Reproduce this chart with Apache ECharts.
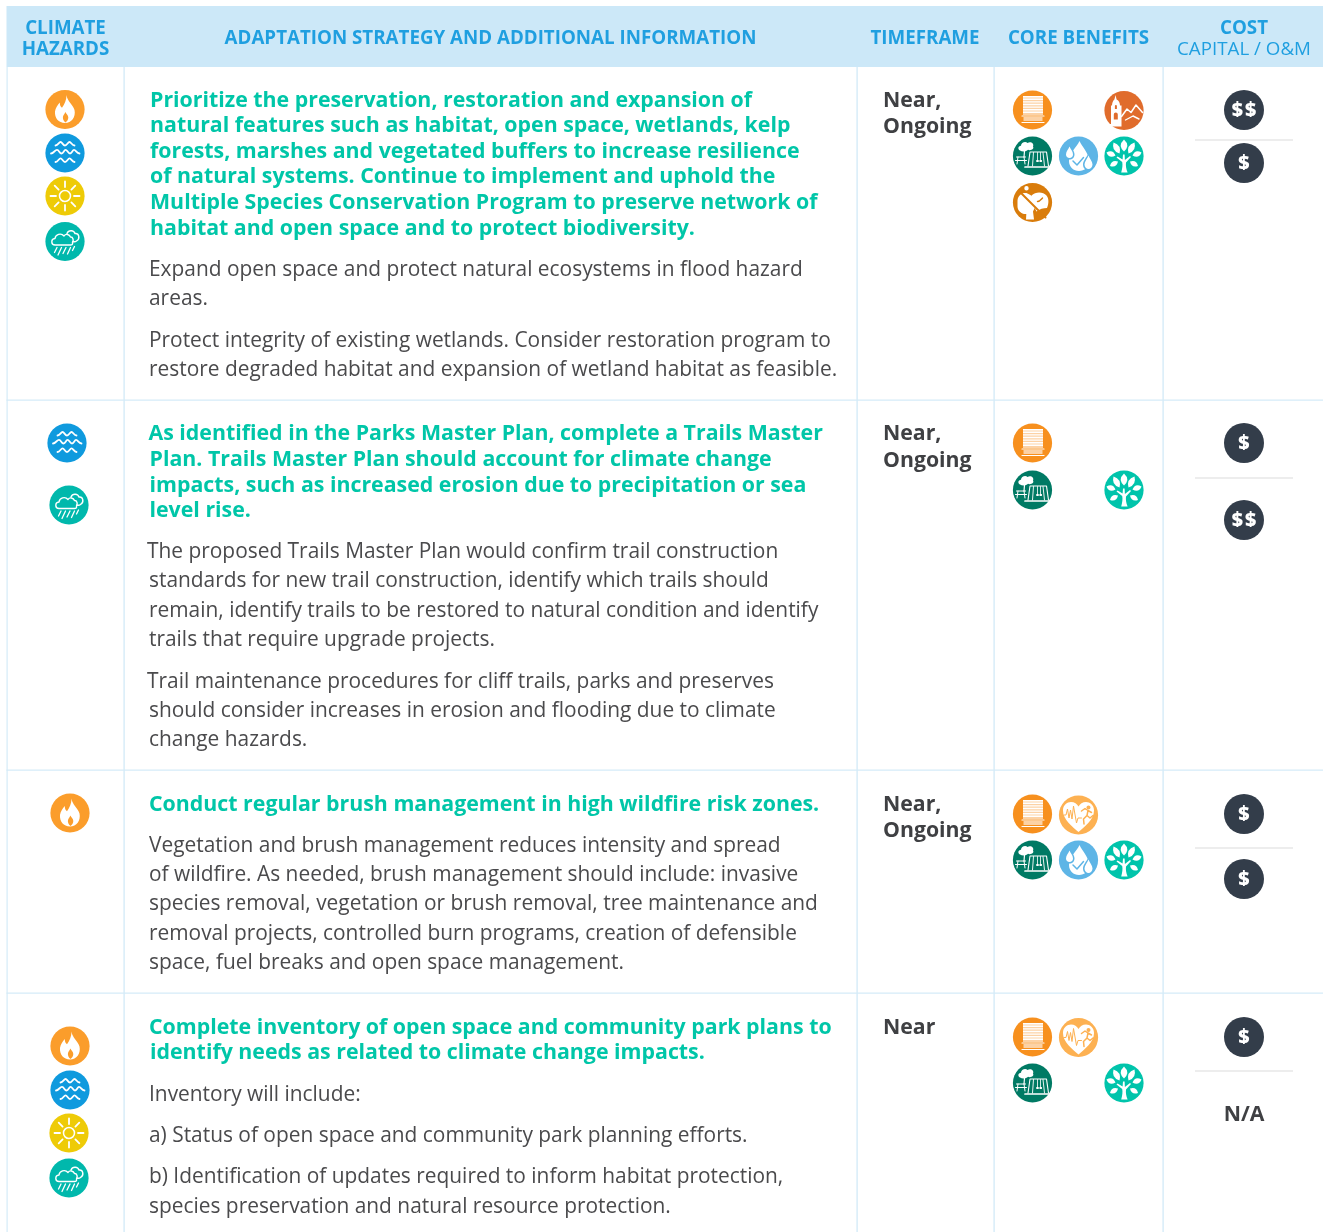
<!DOCTYPE html>
<html><head><meta charset="utf-8">
<style>html,body{margin:0;padding:0;background:#fff}#c{width:1323px;height:1232px}</style>
<script src="https://cdn.jsdelivr.net/npm/echarts@6/dist/echarts.min.js"></script>
</head><body><div id="c"></div>
<script>
// ---------- content ----------
const headerCells = ['ADAPTATION STRATEGY AND ADDITIONAL INFORMATION','TIMEFRAME','CORE BENEFITS'];
const timeframes = [['Near,','Ongoing'],['Near,','Ongoing'],['Near,','Ongoing'],['Near']];
const headlines = [
 ['Prioritize the preservation, restoration and expansion of','natural features such as habitat, open space, wetlands, kelp','forests, marshes and vegetated buffers to increase resilience','of natural systems. Continue to implement and uphold the','Multiple Species Conservation Program to preserve network of','habitat and open space and to protect biodiversity.'],
 ['As identified in the Parks Master Plan, complete a Trails Master','Plan. Trails Master Plan should account for climate change','impacts, such as increased erosion due to precipitation or sea','level rise.'],
 ['Conduct regular brush management in high wildfire risk zones.'],
 ['Complete inventory of open space and community park plans to','identify needs as related to climate change impacts.']
];
const details = [
 ['Expand open space and protect natural ecosystems in flood hazard','areas.','Protect integrity of existing wetlands. Consider restoration program to','restore degraded habitat and expansion of wetland habitat as feasible.'],
 ['The proposed Trails Master Plan would confirm trail construction','standards for new trail construction, identify which trails should','remain, identify trails to be restored to natural condition and identify','trails that require upgrade projects.','Trail maintenance procedures for cliff trails, parks and preserves','should consider increases in erosion and flooding due to climate','change hazards.'],
 ['Vegetation and brush management reduces intensity and spread','of wildfire. As needed, brush management should include: invasive','species removal, vegetation or brush removal, tree maintenance and','removal projects, controlled burn programs, creation of defensible','space, fuel breaks and open space management.'],
 ['Inventory will include:','a) Status of open space and community park planning efforts.','b) Identification of updates required to inform habitat protection,','species preservation and natural resource protection.']
];
const hazards = [['fire','flood','heat','rain'],['flood','rain'],['fire'],['fire','flood','heat','rain']];
const benefits = [['building','historic','play','water','tree','invasive'],['building','play','tree'],['building','heart','play','water','tree'],['building','heart','play','tree']];
const costCapital = ['$$','$','$','$'];
const costOM = ['$','$$','$','N/A'];

// ---------- layout (pixels of the page) ----------
const W=1323,H=1232;
const C={line:'#d5ebf8',head:'#cce8f8',blue:'#1f9fe0',green:'#00c6a8',text:'#4a4a4c',dark:'#3f4043',coin:'#333d4a'};
const colX=[124,857,994,1163], rowY=[67,400,770,993];
const headlineY=[[100,125,151,176,202,228],[433,459,485,510],[804],[1027,1052]];
const headlineX=[[150,150,150,150,150,150],[148.5,149.5,149.5,149.5],[149],[149,150]];
const detailY=[[269,298,340,369],[551,580,610,639,681,710,739],[845,874,903,933,962],[1094,1135,1176,1206]];
const detailX=[[149,149,149,149],[147,149,149,149,147,149,149],[149,149,149,149,149],[149,149,149,149]];
const timeY=[[100,126],[433,460],[804,830],[1027]];
const hazardXY=[[[65,109.5],[65,153],[65,196],[65,241.5]],[[67,443],[69,505]],[[70,813]],[[70,1046],[70,1090],[69,1133],[69,1178]]];
const bx=[1032.5,1078.5,1124];
const benefitXY=[[[bx[0],110],[bx[2],110.5],[bx[0],156],[bx[1],156],[bx[2],156],[bx[0],202.5]],
 [[bx[0],443],[bx[0],490],[bx[2],490]],
 [[bx[0],814],[bx[1],815],[bx[0],860],[bx[1],860],[bx[2],860]],
 [[bx[0],1037],[bx[1],1037.5],[bx[0],1083],[bx[2],1083]]];
const capY=[110,443,814,1037], omY=[163,520,879,1114], sepY=[140,478,848,1071];

// ---------- icon drawings (40 x 40 box) ----------
const BOX='M0 0M40 40';
const fillP=(d,c='#fff')=>({d,fill:c});
const strokeP=(d,w=1.3,c='#fff')=>({d,stroke:c,lw:w});
const leaf=(a,b,c,d,w)=>{const mx=(a+c)/2,my=(b+d)/2,dx=c-a,dy=d-b,l=Math.hypot(dx,dy),nx=-dy/l*w,ny=dx/l*w;
  return `M${a} ${b}Q${mx+nx} ${my+ny} ${c} ${d}Q${mx-nx} ${my-ny} ${a} ${b}Z`;};
const ICONS={
 fire:{bg:'#fb9d2b',parts:[fillP('M21.5 5.5C22 11.5 28 15 29.5 20.5C31 27.5 26.5 33.5 20 33.5C13.5 33.5 9.5 28.5 10 22C10.5 18.5 12.5 15.5 14.8 13C14.8 15.5 15.5 17.3 17 18.2C19.5 15 21.5 10.5 21.5 5.5Z'),fillP('M20.5 33C18.5 31.5 17.5 29 18 27C18.6 25.3 19.8 24.2 20.3 22.5C21.5 24.5 23.3 25.8 23.3 28C23.3 30 22 32 20.5 33Z','#fb9d2b')]},
 flood:{bg:'#0f9ade',parts:[
  strokeP('M10.5 12.5C13 12.5 14 9 15.5 9C17.2 9 18 12.5 20 12.5C22 12.5 23 9 24.5 9C26.2 9 27 12.5 29.5 12.5',1.8),
  strokeP('M6 20.5C8.5 20.5 10 16.8 12 16.8C14 16.8 14.5 20.5 16.5 20.5C18.5 20.5 19 16.8 20.5 16.8C22.3 16.8 23 20.5 25 20.5C27 20.5 27.5 16.8 29 16.8C31 16.8 31.5 20.5 34.5 20.5',1.8),
  strokeP('M10.5 29C13 29 14 25.3 15.5 25.3C17.2 25.3 18 29 20 29C22 29 23 25.3 24.5 25.3C26.2 25.3 27 29 29.5 29',1.8)]},
 heat:{bg:'#eecb07',parts:[strokeP('M20 14.5A5.5 5.5 0 1 1 19.99 14.5Z',1.5),
  strokeP('M20 5.5V11M20 29V34.5M5.5 20H11M29 20H34.5M9.7 9.7L13.6 13.6M26.4 26.4L30.3 30.3M9.7 30.3L13.6 26.4M26.4 13.6L30.3 9.7',1.8)]},
 rain:{bg:'#00b8ac',parts:[strokeP('M10 23.5C6 23.5 5.5 17.5 10 17C10.5 13 16 11 19 14.5C20.5 12 24.5 12.5 25.5 15.5C28 15.3 29 19 27.5 21C28 22.8 26.8 23.5 25.5 23.5Z',1.4),
  strokeP('M22 12C23.5 8 29 8.5 30 12C34 11.5 35.5 17 31.5 19.5C30.6 20.2 29 20.3 27.8 20',1.4),
  strokeP('M12 26L9.5 31M16.5 26L13 33.5M21 26L18 32M25.5 26L22.5 32.5M29.5 25L27.5 29',1.3)]},
 building:{bg:'#f7901e',parts:[
  {d:'M10.5 6H30.5V25H10.5Z',fill:'rgba(255,255,255,0.6)'},
  fillP('M10.5 6H30.5V7.4H10.5ZM10.5 8.6H30.5V10H10.5ZM10.5 11.2H30.5V12.6H10.5ZM10.5 13.8H30.5V15.2H10.5ZM10.5 16.4H30.5V17.8H10.5ZM10.5 19H30.5V20.4H10.5ZM10.5 21.6H30.5V23H10.5Z'),
  {d:'M11 27H30V31H11Z',fill:'rgba(255,255,255,0.6)'},
  strokeP('M9.5 32.5H31.5M9.5 26H31.5',1.2)]},
 historic:{bg:'#e06c2c',parts:[
  fillP('M11.5 4.5L12.6 9C15 10.2 16 12.5 16 15H17.5V36H6V33.5H7V15H8C8 12.5 9 10.2 10.4 9Z'),
  fillP('M10.9 15.5A1 1 0 0 1 12.9 15.5V18.5H10.9ZM9.8 24A2 2 0 0 1 13.8 24V29H9.8Z','#e06c2c'),
  strokeP('M17.5 26L23 18.5L27 22L32 14.5L38.5 22',1.5),strokeP('M21.5 29.5L29 25.5L35 28.5',1.4)]},
 play:{bg:'#007a64',parts:[
  fillP('M7.5 14.5C5 13.5 5.5 10 8.5 9.8C8.5 6.5 13 5 15 7C18 4.8 22 7.5 20.5 10.5C22 13 18.3 15 15.5 13.8C13.5 16 9.5 16 7.5 14.5Z'),
  strokeP('M12 15L11.5 21',1.2),
  strokeP('M4 21H13M5.5 21L4.5 28M11.5 21L12.5 28M3 24.5H14',1),
  strokeP('M15.5 30L17.5 16H34L36 30',1.1),strokeP('M20 30L21 16.5M30.5 16.5L32 30',.9),
  strokeP('M25 16.5V24M28 16.5V24',.8),
  fillP('M23.8 24h2.4v2h-2.4ZM27 24h2.4v2h-2.4Z'),
  strokeP('M12.5 31H38',1.7)]},
 water:{bg:'#5eb5e6',parts:[
  fillP('M21 5C23.5 11 30.5 17 30.5 25C30.5 31 26 35 20.5 35C15 35 10.5 31 10.5 25C10.5 17 18.5 11 21 5Z'),
  fillP('M11 8C12.5 12 16 14.5 16 18.5C16 21.5 13.8 23.5 11 23.5C8.2 23.5 6 21.5 6 18.5C6 14.5 9.5 12 11 8Z','#5eb5e6'),
  fillP('M11 10.5C12 13 14.5 15.5 14.5 18.5C14.5 20.5 13 22 11 22C9 22 7.5 20.5 7.5 18.5C7.5 15.5 10 13 11 10.5Z'),
  fillP('M30 17C31.5 21 35.5 24.5 35.5 28.5C35.5 32 33 34.5 30 34.5C27 34.5 24.5 32 24.5 28.5C24.5 24.5 28.5 21 30 17Z','#5eb5e6'),
  fillP('M30 19.5C31 22.5 34 25.5 34 28.5C34 31 32 33 30 33C28 33 26 31 26 28.5C26 25.5 29 22.5 30 19.5Z'),
  strokeP('M14.5 25L18.5 29L25 21.5',1.5,'#5eb5e6')]},
 tree:{bg:'#00c4ab',parts:[
  fillP('M17.2 36.5C18.4 32 18.8 29 18.2 26L12.5 21.5L13.5 20.5L18.6 23.5L19 18.5H20.6L20.9 24L26 20L27 21L22 26.5C21.6 30 22.2 33 23.6 36.5Z'),
  fillP(leaf(20,15.5,20,3.5,6.5)),fillP(leaf(15.5,17.5,9.5,6.5,6)),fillP(leaf(24.5,17.5,30.5,6.5,6)),fillP(leaf(11.5,19.5,2.5,16.5,5.5)),
  fillP(leaf(28.5,19.5,37.5,16.5,5.5)),fillP(leaf(14,25.5,6,30,5)),fillP(leaf(26,25.5,34,30,5))]},
 invasive:{bg:'#d97c0b',parts:[
  fillP('M5 18C5.5 12 11 9.5 15 11C19 12.5 22.5 16 23 21C23 24 21.5 27 20.5 29L21.5 37H13.5L13.8 31.5C9.5 32 5 28.5 5 24Z'),
  fillP('M19 13C23 9 30.5 9 34 13C36.5 16 36.5 21 34.5 25.5C31 25.5 27 26.5 24 29L19 19Z'),
  strokeP('M6 8L33 35',2,'#d97c0b'),
  strokeP('M25 19C27.5 19 28.5 17 30 15.5',1.4,'#d97c0b'),
  fillP('M14 3.5A2.2 2.2 0 1 1 13.99 3.5Z')]},
 heart:{bg:'#fdb152',parts:[
  fillP('M20 37C14 31.5 4.5 25 4.5 15.5C4.5 10 8.5 7 12.5 7C16 7 18.5 9 20 11.5C21.5 9 24 7 27.5 7C31.5 7 35.5 10 35.5 15.5C35.5 25 26 31.5 20 37Z'),
  strokeP('M5.5 20H7.5L9 14L10.5 23L12 15L13.5 24L15 11L18 28L19.5 23H23',1,'#fdb152'),
  fillP('M30 10.5A2 2 0 1 1 29.99 10.5Z','#fdb152'),
  strokeP('M23 16L26.5 13.5L29.5 15.5L28.5 20.5L25 24L25.5 29M28.5 20.5L31.5 23L34.5 20.5M29.5 15.5L33 17.5',1.5,'#fdb152')]}
};

// ---------- icon marks ----------
const marks=[];
hazards.forEach((r,i)=>r.forEach((k,j)=>marks.push({x:hazardXY[i][j][0],y:hazardXY[i][j][1],k})));
benefits.forEach((r,i)=>r.forEach((k,j)=>marks.push({x:benefitXY[i][j][0],y:benefitXY[i][j][1],k})));
const pushCost=(v,y)=>{ if(v!=='N/A') marks.push({x:1244,y,coin:v}); };
costCapital.forEach((v,i)=>pushCost(v,capY[i]));
costOM.forEach((v,i)=>pushCost(v,omY[i]));

function renderIcon(params,api){
  const m=marks[params.dataIndex], p=api.coord([api.value(0),api.value(1)]);
  if(m.coin){
    return {type:'group',x:p[0],y:p[1],children:[
      {type:'circle',shape:{cx:0,cy:0,r:20},style:{fill:C.coin}},
      {type:'text',style:{text:m.coin.split('').join('\u200a'),x:0,y:0.5,align:'center',verticalAlign:'middle',fill:'#fff',font:'800 19.5px "Open Sans"'}}
    ]};
  }
  const ic=ICONS[m.k];
  const kids=[{type:'circle',shape:{cx:0,cy:0,r:19.6},style:{fill:ic.bg}}];
  ic.parts.forEach(q=>kids.push({type:'path',
    shape:{pathData:BOX+q.d,x:-20,y:-20,width:40,height:40,layout:'cover'},
    style:q.stroke?{fill:null,stroke:q.stroke,lineWidth:q.lw,lineCap:'round',lineJoin:'round'}:{fill:q.fill}}));
  return {type:'group',x:p[0],y:p[1],children:kids};
}

// ---------- table text and rules ----------
const HEAD='700 21.33px "Open Sans"', BODY='400 20.9px "Open Sans"', TH='700 18.75px "Open Sans"', TF='700 21.25px "Open Sans"';
const DY=1.4;
const g=[];
const rect=(x,y,w,h,fill)=>g.push({type:'rect',shape:{x,y,width:w,height:h},style:{fill},silent:true});
const text=(t,x,y,font,fill,align='left')=>g.push({type:'text',x,y:y+DY,style:{text:t,font,fill,align,verticalAlign:'middle'},silent:true});
rect(6.5,6,W-6.5,61,C.head);
rect(6.5,67,1.2,H-67,C.line);
colX.forEach(x=>rect(x-0.6,67,1.4,H-67,C.line));
rowY.slice(1).forEach(y=>rect(6.5,y-0.6,W-6.5,1.4,C.line));
text('CLIMATE',65.5,27,TH,C.blue,'center');
text('HAZARDS',65.5,48,TH,C.blue,'center');
text(headerCells[0],490.5,37,TH,C.blue,'center');
text(headerCells[1],925,37,TH,C.blue,'center');
text(headerCells[2],1078.5,37,TH,C.blue,'center');
text('COST',1244,27,TH,C.blue,'center');
text('CAPITAL / O&M',1244,48,'400 18.75px "Open Sans"',C.blue,'center');
headlines.forEach((r,i)=>r.forEach((t,j)=>text(t,headlineX[i][j],headlineY[i][j],HEAD,C.green)));
details.forEach((r,i)=>r.forEach((t,j)=>text(t,detailX[i][j],detailY[i][j],BODY,C.text)));
timeframes.forEach((r,i)=>r.forEach((t,j)=>text(t,883,timeY[i][j],TF,C.dark)));
sepY.forEach(y=>rect(1195,y-0.5,98,1,'#dcdcdc'));
text(costOM[3],1244,omY[3]-0.5,TF,C.dark,'center');

const chart=echarts.init(document.getElementById('c'),null,{renderer:'canvas'});
chart.setOption({
  animation:false,
  grid:{left:0,right:0,top:0,bottom:0},
  xAxis:{type:'value',min:0,max:W,show:false},
  yAxis:{type:'value',min:0,max:H,inverse:true,show:false},
  graphic:{elements:g},
  series:[{type:'custom',coordinateSystem:'cartesian2d',clip:false,silent:true,z:5,
    data:marks.map(m=>[m.x,m.y]),encode:{x:0,y:1},renderItem:renderIcon}]
});
</script></body></html>
